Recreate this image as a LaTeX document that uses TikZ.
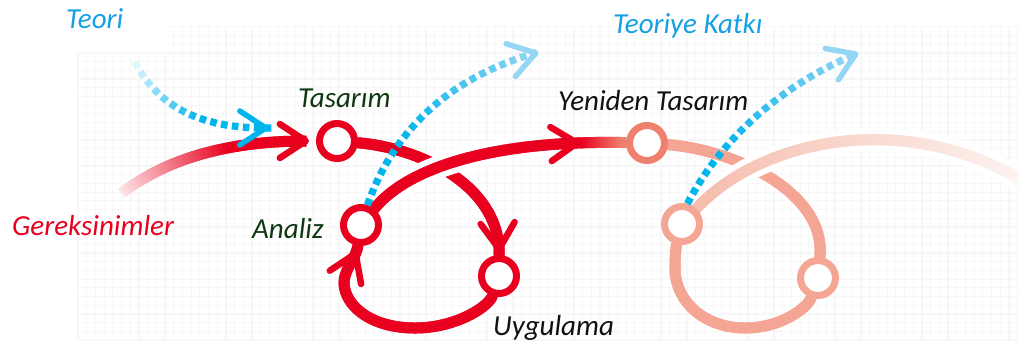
\documentclass[tikz,border=0pt]{standalone}
\usepackage{fontspec}
\setmainfont{Carlito}
\usetikzlibrary{decorations.markings}
\definecolor{cred}{RGB}{232,0,30}
\definecolor{csal}{RGB}{239,128,110}
\definecolor{csal2}{RGB}{244,165,148}
\definecolor{cs3}{RGB}{246,190,175}
\definecolor{cs4}{RGB}{253,243,240}
\definecolor{cblue}{RGB}{0,180,236}
\definecolor{cblueL}{RGB}{150,214,245}
\definecolor{tblue}{RGB}{22,160,228}
\definecolor{tgreen}{RGB}{14,56,18}
\definecolor{tblack}{RGB}{17,17,17}
\definecolor{gridc}{RGB}{247,247,247}
\colorlet{gA}{cred!10}
\colorlet{bA}{cblue!12}
\pgfdeclarelayer{gridl}
\pgfdeclarelayer{bg}
\pgfsetlayers{gridl,bg,main}
\newcommand\mychev[2]{\draw[#1, line width=#2, line cap=round, line join=round] (-26pt,17pt) -- (0pt,0pt) -- (-26pt,-17pt);}
\tikzset{
  gpath/.style n args={5}{
    decoration={markings,
      mark=between positions 0 and 1 step 1.2pt with {%
        \pgfmathsetmacro\gp{max(0,min(100,100*((\pgfkeysvalueof{/pgf/decoration/mark info/distance from start})/(\pgfdecoratedpathlength)-(#3))/((#4)-(#3))))}%
        \colorlet{gtmp}{#2!\gp!#1}%
        \fill[gtmp] (-0.7pt,-#5/2) rectangle (1.5pt,#5/2);%
      }},
    decorate},
  dpath/.style n args={4}{
    decoration={markings,
      mark=between positions 0 and 1 step 11pt with {%
        \pgfmathsetmacro\gp{max(0,min(100,100*((\pgfkeysvalueof{/pgf/decoration/mark info/distance from start})/(\pgfdecoratedpathlength)-(#3))/((#4)-(#3))))}%
        \colorlet{gtmp}{#2!\gp!#1}%
        \fill[gtmp] (0pt,-3.6pt) rectangle (6.6pt,3.6pt);%
      }},
    decorate},
  chevat/.style n args={3}{
    decoration={markings, mark=at position #1 with {\mychev{#2}{#3}}},
    decorate},
  circ/.style={circle, draw=#1, line width=7pt, fill=white, minimum size=35pt, inner sep=0pt},
  lbl/.style={font=\fontsize{29}{32}\selectfont\itshape, inner sep=0pt, anchor=base west},
  casing/.style={draw=white, line width=23pt}
}
\begin{document}
\begin{tikzpicture}[x=1pt,y=-1pt]
\useasboundingbox (0,0) rectangle (1018,349);

% grid
\begin{pgfonlayer}{gridl}
\foreach \k in {0,...,108}{
  \pgfmathsetmacro\gx{78+8.7*\k}
  \pgfmathsetmacro\gy{\gx>165 ? 27 : 52}
  \draw[gridc, line width=1.2pt] (\gx,\gy) -- (\gx,340);
}
\foreach \k in {0,...,36}{
  \pgfmathsetmacro\gy{340-8.7*\k}
  \pgfmathsetmacro\gx{\gy<52 ? 167 : 78}
  \draw[gridc, line width=1.2pt] (\gx,\gy) -- (1018,\gy);
}
\end{pgfonlayer}

% nodes
\node[circ=cred] (tas) at (337,141) {};
\node[circ=cred] (ana) at (361,225) {};
\node[circ=cred] (uyg) at (499,276) {};
\node[circ=csal] (yen) at (647,143) {};
\node[circ=csal2] (ana2) at (682,224) {};
\node[circ=csal2] (uyg2) at (818,278) {};

% labels
\node[lbl, text=tblue] (lteori) at (66,28) {Teori};
\node[lbl, text=tblue] (lkatki) at (613,33) {Teoriye Katkı};
\node[lbl, text=tgreen] (ltas) at (298,107) {Tasarım};
\node[lbl, text=tblack] (lyen) at (558,110) {Yeniden Tasarım};
\node[lbl, text=cred] (lger) at (12,235) {Gereksinimler};
\node[lbl, text=tgreen] (lana) at (252,238) {Analiz};
\node[lbl, text=tblack] (luyg) at (493,335) {Uygulama};

\coordinate (gstart) at (122,193);
\coordinate (gtip) at (306,141);
\coordinate (gend) at (1018,178);
\coordinate (bst) at (135,62);
\coordinate (btip) at (266,128);
\coordinate (b1tip) at (536,53);
\coordinate (b2tip) at (856,54);

\begin{pgfonlayer}{bg}
% Gereksinimler -> Tasarim
\path[gpath={gA}{cred}{0}{0.6}{11pt}]
  (gstart) .. controls (165,160) and (225,141) .. (gtip);
\path[chevat={-0.2pt}{cred}{6.5pt}]
  (gstart) .. controls (165,160) and (225,141) .. (gtip);
% Tasarim -> Uygulama
\path[gpath={cred}{cred}{0}{1}{11pt}]
  (tas) .. controls (420,148) and (500,185) .. (uyg);
\path[chevat={-6pt}{cred}{6.5pt}]
  (tas) .. controls (420,148) and (500,185) .. (uyg);
% Uygulama -> Analiz
\path[gpath={cred}{cred}{0}{1}{11pt}]
  (uyg) .. controls (489,306) and (457,328) .. (415,328)
        .. controls (370,328) and (344,305) .. (344,282)
        .. controls (345,268) and (356,258) .. (ana);
\path[chevat={-8pt}{cred}{6.5pt}]
  (uyg) .. controls (489,306) and (457,328) .. (415,328)
        .. controls (370,328) and (344,305) .. (344,282)
        .. controls (345,268) and (356,258) .. (ana);
% Analiz -> Yeniden Tasarim
\path[casing] (ana) .. controls (410,165) and (500,140) .. (yen);
\path[gpath={cred}{csal}{0.83}{0.98}{11pt}]
  (ana) .. controls (410,165) and (500,140) .. (yen);
\path[chevat={-49pt}{cred}{6.5pt}]
  (ana) .. controls (410,165) and (500,140) .. (yen);
% second loop
\path[gpath={csal2}{csal2}{0}{1}{11pt}]
  (yen) .. controls (735,150) and (826,192) .. (uyg2);
\path[gpath={csal2}{csal2}{0}{1}{11pt}]
  (uyg2) .. controls (808,307) and (782,328) .. (745,328)
         .. controls (705,328) and (675,302) .. (675,268)
         .. controls (675,252) and (677,242) .. (ana2);
\path[casing] (ana2) .. controls (760,140) and (900,110) .. (gend);
\path[gpath={cs3}{cs4}{0.05}{1}{11pt}]
  (ana2) .. controls (760,140) and (900,110) .. (gend);
\end{pgfonlayer}

% blue dotted
\path[dpath={bA}{cblue}{0}{0.55}]
  (bst) .. controls (160,110) and (205,128) .. (btip);
\path[chevat={-0.2pt}{cblue}{5.5pt}]
  (bst) .. controls (160,110) and (205,128) .. (btip);
\path[dpath={cblue}{cblueL}{0.3}{1}]
  (ana.72) .. controls (390,140) and (440,80) .. (b1tip);
\path[chevat={-0.2pt}{cblueL}{5.5pt}]
  (ana.72) .. controls (390,140) and (440,80) .. (b1tip);
\path[dpath={cblue}{cblueL}{0.25}{1}]
  (ana2.75) .. controls (715,150) and (770,90) .. (b2tip);
\path[chevat={-0.2pt}{cblueL}{5.5pt}]
  (ana2.75) .. controls (715,150) and (770,90) .. (b2tip);
\end{tikzpicture}
\end{document}
